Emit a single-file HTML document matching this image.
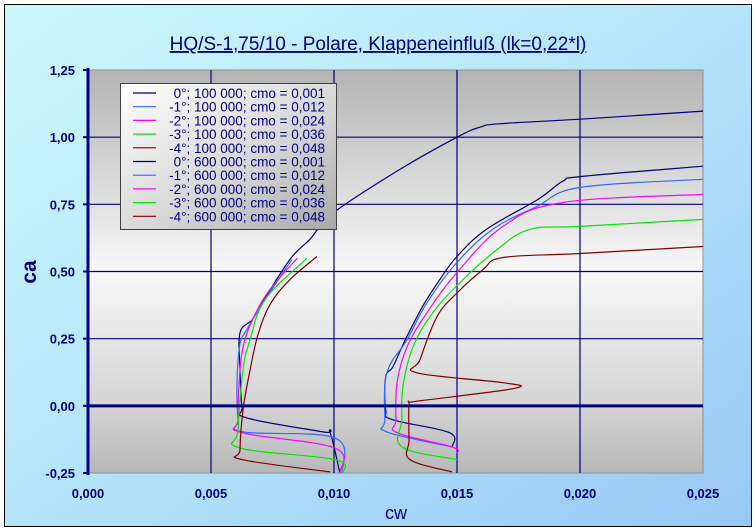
<!DOCTYPE html>
<html><head><meta charset="utf-8"><style>
html,body{margin:0;padding:0;background:#fff;}
svg{display:block;font-family:"Liberation Sans","DejaVu Sans",sans-serif;}
</style></head><body>
<svg id="chart" width="756" height="532" viewBox="0 0 756 532">
<defs>
<linearGradient id="bgG" x1="0" y1="0" x2="1" y2="1">
<stop offset="0" stop-color="#ccf8fc"/><stop offset="0.5" stop-color="#b4e4fa"/><stop offset="1" stop-color="#98c8f6"/>
</linearGradient>
<linearGradient id="plotG" x1="0" y1="0" x2="0" y2="1">
<stop offset="0" stop-color="#b4b4b4"/><stop offset="0.5" stop-color="#f8f8f8"/><stop offset="0.83" stop-color="#d4d4d4"/><stop offset="1" stop-color="#b8b8b8"/>
</linearGradient>
<linearGradient id="legG" x1="0" y1="0" x2="1" y2="1">
<stop offset="0" stop-color="#ffffff"/><stop offset="0.6" stop-color="#d4d4d4"/><stop offset="1" stop-color="#a8a8a8"/>
</linearGradient>
</defs>
<rect x="0" y="0" width="756" height="532" fill="#fff"/>
<rect x="4.5" y="4.5" width="747" height="522" fill="url(#bgG)" stroke="#000"/>
<text x="378" y="50" text-anchor="middle" font-size="19" fill="#000080" text-decoration="underline">HQ/S-1,75/10 - Polare, Klappeneinfluß (lk=0,22*l)</text>
<rect x="88" y="70" width="615" height="403" fill="url(#plotG)" stroke="#909090"/>
<g id="grid"></g>
<g id="series"></g>
<g id="axes"></g>
<text x="36" y="272" text-anchor="middle" font-size="21" font-weight="bold" fill="#000080" transform="rotate(-90 36 272)">ca</text>
<text x="396" y="519" text-anchor="middle" font-size="18" fill="#000080">cw</text>
<g id="legend"></g>
</svg>
<script>
const xTicks = [0, 0.005, 0.010, 0.015, 0.020, 0.025];
const xTickLabels = ["0,000","0,005","0,010","0,015","0,020","0,025"];
const yTicks = [-0.25, 0, 0.25, 0.5, 0.75, 1.0, 1.25];
const yTickLabels = ["-0,25","0,00","0,25","0,50","0,75","1,00","1,25"];
const seriesNames = ["0°; 100 000; cmo = 0,001","-1°; 100 000; cm0 = 0,012","-2°; 100 000; cmo = 0,024","-3°; 100 000; cmo = 0,036","-4°; 100 000; cmo = 0,048","0°; 600 000; cmo = 0,001","-1°; 600 000; cmo = 0,012","-2°; 600 000; cmo = 0,024","-3°; 600 000; cmo = 0,036","-4°; 600 000; cmo = 0,048"];
const seriesColors = ["#000080","#3366ff","#ff00ff","#00e600","#800000","#000080","#3366ff","#ff00ff","#00e600","#800000"];
const s0_100k = [[0.01024,-0.25],[0.00984,-0.10],[0.00955,-0.097],[0.00646,-0.045],[0.00626,-0.004],[0.00618,0.134],[0.00618,0.272],[0.00667,0.32],[0.00699,0.37],[0.00821,0.545],[0.00902,0.62],[0.0100,0.72],[0.01268,0.88],[0.0150,1.00],[0.01593,1.037],[0.01675,1.05],[0.0200,1.067],[0.0250,1.097]];
const s1_100k = [[0.01033,-0.25],[0.01004,-0.12],[0.0063,-0.097],[0.0061,-0.05],[0.00606,0.097],[0.00618,0.23],[0.00646,0.284],[0.00707,0.377],[0.00829,0.545]];
const s2_100k = [[0.01024,-0.25],[0.01004,-0.157],[0.00626,-0.10],[0.0061,-0.05],[0.00618,0.134],[0.00638,0.246],[0.00679,0.34],[0.0074,0.433],[0.0085,0.549]];
const s3_100k = [[0.01037,-0.25],[0.01004,-0.20],[0.00618,-0.157],[0.0061,-0.09],[0.0063,0.134],[0.00659,0.246],[0.0072,0.396],[0.0089,0.549]];
const s4_100k = [[0.00984,-0.246],[0.00626,-0.20],[0.00618,-0.164],[0.0063,-0.015],[0.00659,0.134],[0.00691,0.265],[0.0074,0.377],[0.00821,0.47],[0.00931,0.556]];
const s0_600k = [[0.0148,-0.153],[0.0147,-0.10],[0.0124,-0.052],[0.0121,-0.015],[0.0121,0.108],[0.0124,0.146],[0.0129,0.246],[0.0136,0.37],[0.0143,0.47],[0.0150,0.556],[0.0162,0.657],[0.0183,0.769],[0.0193,0.836],[0.0201,0.854],[0.0250,0.892]];
const s1_600k = [[0.0148,-0.153],[0.01215,-0.097],[0.01207,-0.052],[0.01215,0.123],[0.01297,0.246],[0.01378,0.384],[0.0150,0.534],[0.0165,0.66],[0.01825,0.742],[0.0200,0.813],[0.0250,0.843]];
const s2_600k = [[0.0150,-0.175],[0.0148,-0.153],[0.01256,-0.10],[0.01252,-0.052],[0.01256,0.086],[0.01297,0.22],[0.01378,0.347],[0.0150,0.496],[0.01687,0.668],[0.0193,0.757],[0.0250,0.787]];
const s3_600k = [[0.0150,-0.20],[0.01276,-0.153],[0.01276,-0.052],[0.0128,0.071],[0.01321,0.22],[0.01402,0.347],[0.01512,0.459],[0.01663,0.582],[0.01797,0.657],[0.0200,0.668],[0.0250,0.694]];
const s4_600k = [[0.0148,-0.246],[0.01309,-0.20],[0.01305,-0.127],[0.01305,0.004],[0.0132,0.015],[0.01484,0.034],[0.01744,0.067],[0.01687,0.086],[0.01337,0.123],[0.0135,0.172],[0.01419,0.332],[0.0150,0.42],[0.01606,0.507],[0.01687,0.552],[0.0200,0.567],[0.0250,0.593]];
const allSeries = [s0_100k,s1_100k,s2_100k,s3_100k,s4_100k,s0_600k,s1_600k,s2_600k,s3_600k,s4_600k];

const NS = "http://www.w3.org/2000/svg";
const X0 = 88, X1 = 703, Y0 = 473, Y1 = 70;
function sx(v){ return X0 + (v - 0) / 0.025 * (X1 - X0); }
function sy(v){ return Y0 - (v + 0.25) / 1.5 * (Y0 - Y1); }
function mk(tag, attrs, parent){ const e = document.createElementNS(NS, tag); for (const k in attrs) e.setAttribute(k, attrs[k]); parent.appendChild(e); return e; }
function smoothPath(p){
  let d = 'M' + p[0][0].toFixed(1) + ',' + p[0][1].toFixed(1);
  const k = 0.18;
  for (let i = 0; i < p.length - 1; i++) {
    const a = p[Math.max(0, i - 1)], b = p[i], c = p[i + 1], e = p[Math.min(p.length - 1, i + 2)];
    const c1x = b[0] + (c[0] - a[0]) * k, c1y = b[1] + (c[1] - a[1]) * k;
    const c2x = c[0] - (e[0] - b[0]) * k, c2y = c[1] - (e[1] - b[1]) * k;
    d += ' C' + c1x.toFixed(1) + ',' + c1y.toFixed(1) + ' ' + c2x.toFixed(1) + ',' + c2y.toFixed(1) + ' ' + c[0].toFixed(1) + ',' + c[1].toFixed(1);
  }
  return d;
}

const grid = document.getElementById('grid');
const axes = document.getElementById('axes');
xTicks.forEach((t, i) => {
  if (i > 0 && i < xTicks.length - 1) {
    const l = mk('line', {x1: sx(t), x2: sx(t), y1: Y1, y2: Y0, stroke: '#000080', 'stroke-width': 1.2}, grid);
    
    
  }
  const tx = mk('text', {x: sx(t), y: 498, 'text-anchor': 'middle', 'font-size': 13, 'font-weight': 'bold', fill: '#000080'}, axes);
  tx.textContent = xTickLabels[i];
  
  
});
yTicks.forEach((t, i) => {
  if (t !== 0 && i > 0 && i < yTicks.length - 1) {
    const l = mk('line', {x1: X0, x2: X1, y1: sy(t), y2: sy(t), stroke: '#000080', 'stroke-width': 1.2}, grid);
    
    
  }
  mk('line', {x1: X0 - 5, x2: X0, y1: sy(t), y2: sy(t), stroke: '#000080', 'stroke-width': 2}, axes);
  const tx = mk('text', {x: 75, y: sy(t) + 5, 'text-anchor': 'end', 'font-size': 13, 'font-weight': 'bold', fill: '#000080'}, axes);
  tx.textContent = yTickLabels[i];
  
  
});
const zl = mk('line', {x1: X0, x2: X1, y1: sy(0), y2: sy(0), stroke: '#000080', 'stroke-width': 3}, axes);


const ya = mk('line', {x1: X0, x2: X0, y1: Y1 - 2, y2: Y0 + 2, stroke: '#000080', 'stroke-width': 3}, axes);



const sg = document.getElementById('series');
allSeries.forEach((pts, i) => {
  const px = pts.map(d => [sx(d[0]), sy(d[1])]);
  const p = mk('path', {d: smoothPath(px), fill: 'none', stroke: seriesColors[i], 'stroke-width': 1.2, 'stroke-linejoin': 'round'}, sg);
  
  
});

const lg = document.getElementById('legend');
const lb = mk('rect', {x: 120.5, y: 83.5, width: 216, height: 146, fill: 'url(#legG)', stroke: '#404040'}, lg);


seriesNames.forEach((n, i) => {
  const y = 93 + i * 13.7;
  mk('line', {x1: 133, x2: 156, y1: y, y2: y, stroke: seriesColors[i], 'stroke-width': 1.2}, lg);
  const t = mk('text', {x: 325, y: y + 5, 'text-anchor': 'end', 'font-size': 13.5, fill: '#000080'}, lg);
  t.textContent = n;
  
  
});
</script>
</body></html>
